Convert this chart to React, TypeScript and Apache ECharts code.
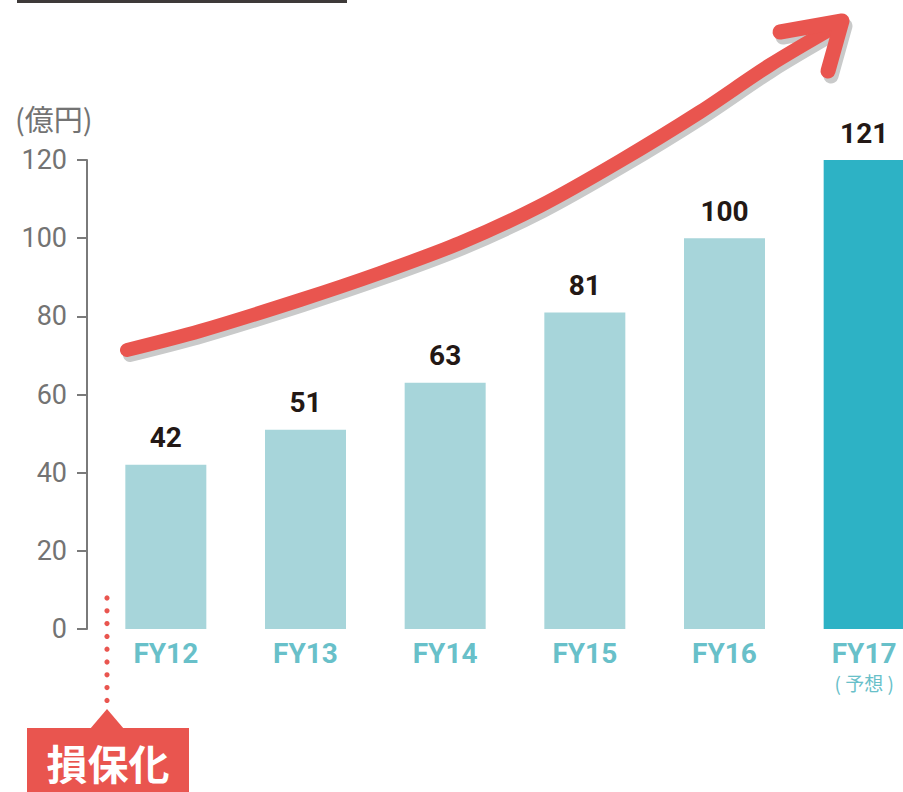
import React, { useEffect, useRef } from "react";
import * as echarts from "echarts";

const categories = ["FY12", "FY13", "FY14", "FY15", "FY16", "FY17"];
const values = [42, 51, 63, 81, 100, 121];
const forecastFlags = [false, false, false, false, false, true];
const yTicks = [0, 20, 40, 60, 80, 100, 120];
const unitLabel = "(億円)";
const forecastNote = "( 予想 )";
const calloutText = "損保化";

const RED = "#e9554f";
const SHADOW = "#c9caca";
const LIGHT = "#a7d5da";
const DARK = "#2db2c5";
const XLAB = "#68c0c9";
const GRAY = "#737373";

const arrowPts = [
  [127, 350], [200, 331], [300, 300], [380, 273], [460, 243], [540, 206],
  [620, 161], [700, 112], [770, 65], [836, 26],
];
const headPts = [[780, 32], [842, 21], [828, 71]];

export default function App() {
  const ref = useRef<HTMLDivElement>(null);
  useEffect(() => {
    if (!ref.current) return;
    const chart = echarts.init(ref.current, null, { renderer: "svg" });
    const off = (pts: number[][]) => pts.map((p) => [p[0] + 3, p[1] + 5]);
    const dots: any[] = [];
    for (let i = 0; i < 9; i++) {
      dots.push({
        type: "circle",
        shape: { cx: 107, cy: 598 + i * 12.8, r: 2.6 },
        style: { fill: RED },
      });
    }
    chart.setOption({
      animation: false,
      grid: { left: 96, top: 160, right: 0, height: 469, containLabel: false },
      xAxis: {
        type: "category",
        data: categories,
        axisLine: { show: false },
        axisTick: { show: false },
        axisLabel: {
          interval: 0,
          margin: 8,
          fontSize: 28,
          formatter: (v: string) => {
            const i = categories.indexOf(v);
            return forecastFlags[i] ? `{fy|${v}}\n{note|${forecastNote}}` : `{fy|${v}}`;
          },
          rich: {
            fy: { fontFamily: "Roboto", fontWeight: "bold", fontSize: 28, color: XLAB, lineHeight: 32 },
            note: { fontFamily: "Noto Sans CJK JP", fontSize: 19, color: XLAB, lineHeight: 26 },
          },
        },
      },
      yAxis: {
        type: "value",
        min: yTicks[0],
        max: yTicks[yTicks.length - 1],
        interval: 20,
        offset: 9,
        splitLine: { show: false },
        axisLine: { show: true, lineStyle: { color: "#7a7a7a", width: 2 } },
        axisTick: { show: true, length: 10, lineStyle: { color: "#7a7a7a", width: 2 } },
        axisLabel: { margin: 20, fontFamily: "Roboto", fontSize: 27, color: GRAY },
      },
      series: [
        {
          type: "bar",
          barWidth: 81,
          data: values.map((v, i) => ({
            value: v,
            itemStyle: { color: forecastFlags[i] ? DARK : LIGHT },
          })),
          label: {
            show: true,
            position: "top",
            distance: 13,
            fontFamily: "Roboto",
            fontWeight: "bold",
            fontSize: 28,
            color: "#231815",
          },
        },
      ],
      graphic: [
        { type: "rect", shape: { x: 17, y: 0, width: 330, height: 3 }, style: { fill: "#3e3a39" } },
        {
          type: "text",
          x: 15,
          y: 118,
          style: { text: unitLabel, fontFamily: "Noto Sans CJK JP", fontSize: 29, fill: GRAY, verticalAlign: "middle" },
        },
        {
          type: "polyline",
          shape: { points: off(arrowPts), smooth: 0.3 },
          style: { stroke: SHADOW, lineWidth: 14, fill: "none", lineCap: "round", lineJoin: "round" },
        },
        {
          type: "polyline",
          shape: { points: off(headPts) },
          style: { stroke: SHADOW, lineWidth: 15, fill: "none", lineCap: "round", lineJoin: "round" },
        },
        {
          type: "polyline",
          shape: { points: arrowPts, smooth: 0.3 },
          style: { stroke: RED, lineWidth: 14, fill: "none", lineCap: "round", lineJoin: "round" },
        },
        {
          type: "polyline",
          shape: { points: headPts },
          style: { stroke: RED, lineWidth: 15, fill: "none", lineCap: "round", lineJoin: "round" },
        },
        ...dots,
        {
          type: "polygon",
          shape: { points: [[90, 729], [107, 709], [124, 729]] },
          style: { fill: RED },
        },
        { type: "rect", shape: { x: 27, y: 728, width: 162, height: 70 }, style: { fill: RED } },
        {
          type: "text",
          x: 108,
          y: 762,
          style: {
            text: calloutText,
            fontFamily: "Noto Sans CJK JP",
            fontWeight: "bold",
            fontSize: 41,
            fill: "#ffffff",
            align: "center",
            verticalAlign: "middle",
          },
        },
      ],
    });
    return () => chart.dispose();
  }, []);
  return (
    <div
      ref={ref}
      style={{ position: "fixed", left: 0, top: 0, width: 934, height: 792, background: "#fff" }}
    />
  );
}
